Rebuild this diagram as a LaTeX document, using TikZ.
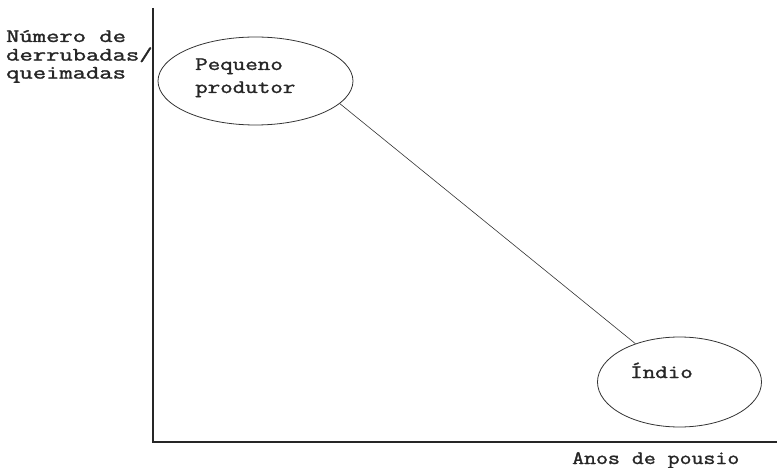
\documentclass[tikz,border=0pt]{standalone}
\usepackage{fontspec}
\usepackage{graphicx}
\usetikzlibrary{shapes.geometric}
\newfontfamily\dosfont{Latin Modern Mono}[FakeBold=1.4]
\newcommand\wtxt[3]{{\fontsize{19}{#2}\selectfont\scalebox{#1}[1]{\begin{tabular}[t]{@{}l@{}}#3\end{tabular}}}}
\begin{document}
\begin{tikzpicture}[x=1pt,y=-1pt,
  lbl/.style={font=\dosfont, inner sep=0pt, anchor=base west, text=black!85},
  blob/.style={draw=black!80, line width=0.8pt, ellipse, inner sep=0pt},
  axisline/.style={draw=black!85, line width=1.6pt},
  link/.style={draw=black!80, line width=0.6pt}]
\useasboundingbox (0,0) rectangle (777,468);
% axes
\coordinate (ytop) at (153,8);
\coordinate (orig) at (153,442);
\coordinate (xend) at (777,442);
\draw[axisline] (ytop) -- (orig) -- (xend);
% axis labels
\node[lbl] (yl) at (6,42) {\wtxt{1.36}{18}{Número de\\derrubadas/\\queimadas}};
\node[lbl] (xl) at (572,464) {\wtxt{1.22}{19}{Anos de pousio}};
% ellipses
\node[blob, minimum width=195pt, minimum height=88pt] (p) at (255.5,81) {};
\node[blob, minimum width=164pt, minimum height=90pt] (i) at (679.5,382) {};
\node[lbl] (pt) at (195,70) {\wtxt{1.28}{23}{Pequeno\\produtor}};
\node[lbl] (it) at (630,378) {\wtxt{1.28}{19}{Índio}};
% connector
\draw[link] (p.-15) -- (i.139);
\end{tikzpicture}
\end{document}
